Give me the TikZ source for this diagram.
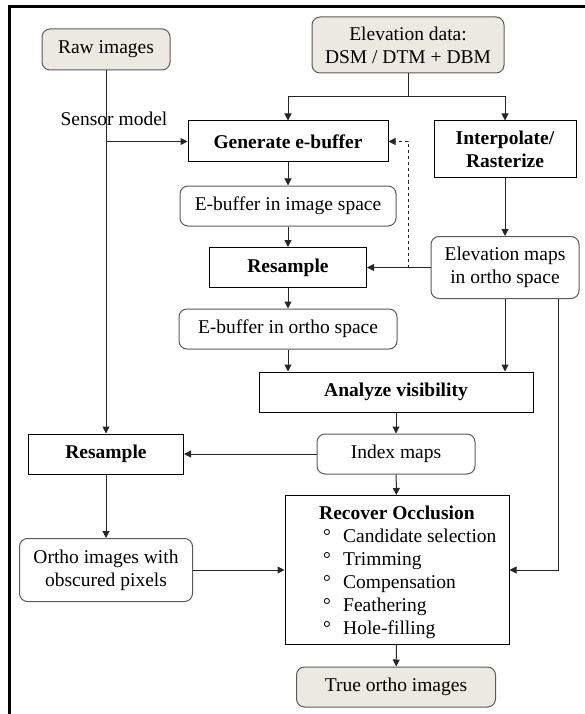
\documentclass[tikz,border=0pt]{standalone}
\usepackage{fontspec}
\setmainfont{Liberation Serif}
\usepackage{tikz}
\usetikzlibrary{arrows.meta}
\definecolor{hbeige}{HTML}{ECE9E0}
\definecolor{hgray}{HTML}{5A5A5A}

\begin{document}
\begin{tikzpicture}[x=1pt,y=-1pt,
    every node/.style={font=\fontsize{19.5}{23}\selectfont, inner sep=0pt, align=center},
    endbox/.style={draw=hgray, fill=hbeige, rounded corners=8pt, line width=1pt},
    databox/.style={draw=hgray, fill=white, rounded corners=8pt, line width=1pt},
    procbox/.style={draw=black, fill=white, line width=1pt, font=\fontsize{19.5}{23}\selectfont\bfseries},
    arr/.style={-{Triangle[length=7pt,width=7pt]}, line width=1pt, draw=black!85}]
          \useasboundingbox (0,0) rectangle (585,714);
          \draw[line width=3pt] (9.5,714) -- (9.5,6.5) -- (585,6.5);
          \node[endbox, minimum width=128pt, minimum height=41pt] (raw) at (106,49.5) {Raw images};
          \node[endbox, minimum width=192pt, minimum height=56pt] (elev) at (408,45) {Elevation data:\\DSM / DTM + DBM};
          \node[procbox, minimum width=200pt, minimum height=41pt] (gen) at (288,141.5) {Generate e-buffer};
          \node[procbox, minimum width=142pt, minimum height=57pt] (interp) at (505,149.5) {Interpolate/\\Rasterize};
          \node (sensor) at (114,119) {Sensor model};
          \node[databox, minimum width=216pt, minimum height=40pt] (ebimg) at (288,206) {E-buffer in image space};
          \node[procbox, minimum width=157pt, minimum height=40pt] (rsone) at (288,267.5) {Resample};
          \node[databox, minimum width=148pt, minimum height=62pt] (elevmaps) at (505,267.5) {Elevation maps\\in ortho space};
          \node[databox, minimum width=218pt, minimum height=40pt] (ebortho) at (288,329) {E-buffer in ortho space};
          \node[procbox, minimum width=274pt, minimum height=40pt] (analyze) at (396,392) {Analyze visibility};
          \node[databox, minimum width=158pt, minimum height=40pt] (index) at (396,454) {Index maps};
          \node[procbox, minimum width=155pt, minimum height=40pt] (rstwo) at (106,454) {Resample};
          \node[databox, minimum width=173pt, minimum height=63pt] (ortho) at (106,570) {Ortho images with\\obscured pixels};
          \node[procbox, minimum width=224pt, minimum height=149pt] (rec) at (397,570) {};
          \node[anchor=north west, align=left] (rectxt) at (319,506) {\textbf{Recover Occlusion}\\
            \hspace*{4pt}\makebox[20pt][l]{°}Candidate selection\\
            \hspace*{4pt}\makebox[20pt][l]{°}Trimming\\
            \hspace*{4pt}\makebox[20pt][l]{°}Compensation\\
            \hspace*{4pt}\makebox[20pt][l]{°}Feathering\\
            \hspace*{4pt}\makebox[20pt][l]{°}Hole-filling};
          \node[endbox, minimum width=199pt, minimum height=40pt] (true) at (396,687) {True ortho images};
          \coordinate (split) at (408,97);
          \draw[line width=1pt, black!85] (elev) -- (split);
          \draw[arr] (split) -| (gen);
          \draw[arr] (split) -| (interp);
          \draw[arr] (raw) -- (rstwo);
          \draw[arr] (raw.south |- gen.west) -- (gen.west);
          \draw[arr] (gen) -- (ebimg);
          \draw[arr] (ebimg) -- (rsone);
          \draw[arr] (interp) -- (elevmaps);
          \draw[arr] (elevmaps) -- (rsone);
          \draw[arr, dashed] (elevmaps.west -| split) |- (gen.east);
          \draw[arr] (rsone) -- (ebortho);
          \draw[arr] (ebortho) -- (ebortho |- analyze.north);
          \draw[arr] (elevmaps) -- (elevmaps |- analyze.north);
          \draw[arr] (analyze) -- (index);
          \draw[arr] (index) -- (rstwo);
          \draw[arr] (rstwo) -- (ortho);
          \draw[arr] (index) -- (rec);
          \draw[arr] (ortho) -- (rec);
          \draw[arr] ([xshift=-21pt]elevmaps.south east) |- (rec.east);
          \draw[arr] (rec) -- (true);
      \end{tikzpicture}
\end{document}
